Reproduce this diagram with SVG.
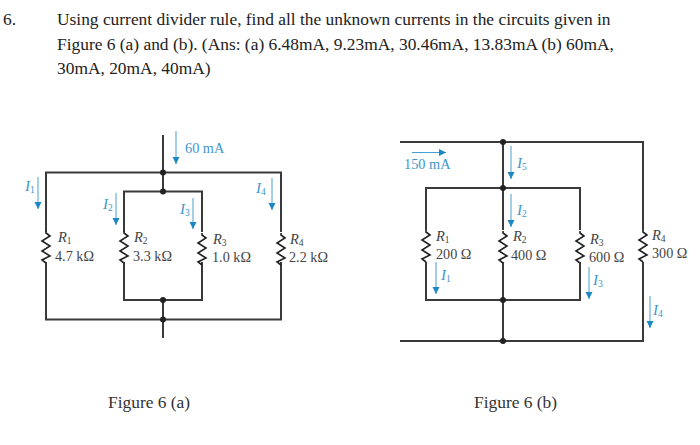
<svg xmlns="http://www.w3.org/2000/svg" width="700" height="445" viewBox="0 0 700 445">
<style>
text{font-family:"Liberation Serif","Times New Roman",serif}
.q{font-size:17.4px;fill:#222}
.cap{font-size:17.400px;fill:#333}
.v{font-size:14.200px;fill:#444}
.r{font-size:14.500px;fill:#444;font-style:italic}
.b{font-size:14.300px;fill:#3d96cc}
.i{font-size:15px;fill:#3d96cc;font-style:italic}
.s{font-size:9.500px;font-style:normal}
.w{fill:none;stroke:#3a3a3a;stroke-width:2}
.z{fill:none;stroke:#222;stroke-width:1.6}
.a{fill:none;stroke:#4a9fd2;stroke-width:1;marker-end:url(#h)}
.d{fill:#222}
</style>
<defs>
<marker id="h" markerUnits="userSpaceOnUse" markerWidth="8" markerHeight="9" refX="7" refY="3.5" orient="auto"><path d="M0 0L7 3.5L0 7Z" fill="#1b87c4"/></marker>
<path id="rz" d="M0 0L0 2L4 5L-4 10L4 15L-4 20L4 25L-4 29L0 32"/>
</defs>
<rect width="700" height="445" fill="#fff"/>
<g id="question">
<text class="q" x="3" y="25">6.</text>
<text class="q" x="57" y="25">Using current divider rule, find all the unknown currents in the circuits given in</text>
<text class="q" x="57" y="50">Figure 6 (a) and (b). (Ans: (a) 6.48mA, 9.23mA, 30.46mA, 13.83mA (b) 60mA,</text>
<text class="q" x="57" y="74">30mA, 20mA, 40mA)</text>
</g>
<g id="connectors">
<path class="w" d="M163 135V172.500M46 232V172.500H281V232M163 172.500V191.500M124 232V191.500H202V232M124 262V300H202V262M46 262V319.500H281V262M163 300V338"/>
<path class="w" d="M400 142H643V230M503 142V230M426 230V188H580V230M426 262V300H580V262M503 262V341M643 262V341H400"/>
<path class="a" d="M176 131V164"/><path class="a" d="M38 177V209"/><path class="a" d="M116 193V225"/><path class="a" d="M193 198V229"/><path class="a" d="M272 178V210"/>
<path class="a" d="M412 152.500H446"/><path class="a" d="M511 146V179"/><path class="a" d="M511 194V227"/><path class="a" d="M436 262V294"/><path class="a" d="M589 267V299"/><path class="a" d="M650 296V328"/>
</g>
<g id="figure-a">
<g id="a-r1"><use href="#rz" class="z" x="46" y="231"/><text class="r" x="58" y="242">R<tspan class="s" dy="2">1</tspan></text><text class="v" x="55" y="261">4.7 kΩ</text></g>
<g id="a-r2"><use href="#rz" class="z" x="124" y="231"/><text class="r" x="134" y="242">R<tspan class="s" dy="2">2</tspan></text><text class="v" x="133" y="261">3.3 kΩ</text></g>
<g id="a-r3"><use href="#rz" class="z" x="202" y="233"/><text class="r" x="213" y="244">R<tspan class="s" dy="2">3</tspan></text><text class="v" x="212" y="262">1.0 kΩ</text></g>
<g id="a-r4"><use href="#rz" class="z" x="281" y="233"/><text class="r" x="290" y="244">R<tspan class="s" dy="2">4</tspan></text><text class="v" x="289" y="262">2.2 kΩ</text></g>
<g id="a-junctions"><circle class="d" cx="163" cy="172.500" r="3"/><circle class="d" cx="163" cy="191.500" r="3"/><circle class="d" cx="163" cy="300" r="3"/><circle class="d" cx="163" cy="319.500" r="3"/></g>
<text class="b" x="185" y="153">60 mA</text>
<text class="i" x="25" y="191">I<tspan class="s" dy="2">1</tspan></text><text class="i" x="103" y="209">I<tspan class="s" dy="2">2</tspan></text><text class="i" x="180" y="214">I<tspan class="s" dy="2">3</tspan></text><text class="i" x="256" y="193">I<tspan class="s" dy="2">4</tspan></text>
<text class="cap" x="108" y="408">Figure 6 (a)</text>
</g>
<g id="figure-b">
<g id="b-r1"><use href="#rz" class="z" x="426" y="230"/><text class="r" x="436" y="241">R<tspan class="s" dy="2">1</tspan></text><text class="v" x="436" y="259">200 Ω</text></g>
<g id="b-r2"><use href="#rz" class="z" x="503" y="231"/><text class="r" x="513" y="241">R<tspan class="s" dy="2">2</tspan></text><text class="v" x="511" y="260">400 Ω</text></g>
<g id="b-r3"><use href="#rz" class="z" x="580" y="231"/><text class="r" x="590" y="244">R<tspan class="s" dy="2">3</tspan></text><text class="v" x="589" y="262">600 Ω</text></g>
<g id="b-r4"><use href="#rz" class="z" x="643" y="230"/><text class="r" x="652" y="240">R<tspan class="s" dy="2">4</tspan></text><text class="v" x="652" y="258">300 Ω</text></g>
<g id="b-junctions"><circle class="d" cx="503" cy="142" r="3"/><circle class="d" cx="503" cy="188" r="3"/><circle class="d" cx="503" cy="300" r="3"/><circle class="d" cx="503" cy="341" r="3"/></g>
<text class="b" x="404" y="169">150 mA</text>
<text class="i" x="517" y="168">I<tspan class="s" dy="2">5</tspan></text><text class="i" x="517" y="215">I<tspan class="s" dy="2">2</tspan></text><text class="i" x="441" y="280">I<tspan class="s" dy="2">1</tspan></text><text class="i" x="593" y="285">I<tspan class="s" dy="2">3</tspan></text><text class="i" x="653" y="315">I<tspan class="s" dy="2">4</tspan></text>
<text class="cap" x="474" y="408">Figure 6 (b)</text>
</g>
</svg>
